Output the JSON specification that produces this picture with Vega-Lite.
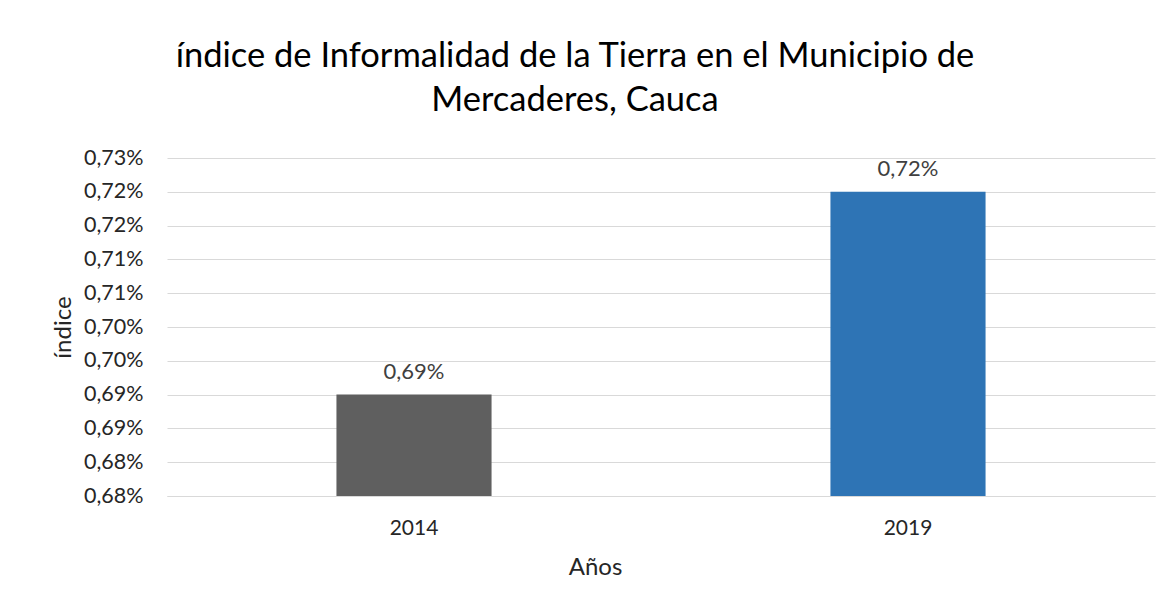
{
  "$schema": "https://vega.github.io/schema/vega-lite/v6.json",
  "width": 988,
  "height": 338,
  "autosize": {"type": "none"},
  "padding": {"left": 167, "top": 158, "right": 16, "bottom": 109},
  "background": "white",
  "title": {
    "text": ["índice de Informalidad de la Tierra en el Municipio de", "Mercaderes, Cauca"],
    "anchor": "middle",
    "orient": "top",
    "font": "Lato",
    "fontSize": 34.5,
    "fontWeight": "normal",
    "color": "#000000",
    "lineHeight": 44,
    "baseline": "bottom",
    "offset": -5,
    "dx": -86
  },
  "data": {
    "values": [
      {"year": "2014", "indice": 0.0069},
      {"year": "2019", "indice": 0.0072}
    ]
  },
  "encoding": {
    "x": {
      "field": "year",
      "type": "nominal",
      "scale": {"paddingInner": 0.686, "paddingOuter": 0.343},
      "axis": {
        "title": "Años",
        "labelAngle": 0,
        "ticks": false,
        "tickSize": 0,
        "domain": true,
        "domainColor": "#d9d9d9",
        "labelPadding": 21,
        "titlePadding": 17,
        "titleX": 428,
        "labelFont": "Lato",
        "labelFontSize": 21,
        "labelColor": "#262626",
        "titleFont": "Lato",
        "titleFontSize": 24,
        "titleFontWeight": "normal",
        "titleColor": "#262626"
      }
    },
    "y": {
      "field": "indice",
      "type": "quantitative",
      "scale": {"domain": [0.00675, 0.00725], "zero": false, "nice": false},
      "axis": {
        "title": "índice",
        "values": [0.00675, 0.0068, 0.00685, 0.0069, 0.00695, 0.007, 0.00705, 0.0071, 0.00715, 0.0072, 0.00725],
        "labelExpr": "replace(format(datum.value + 0.000000001, '.2%'), '.', ',')",
        "ticks": false,
        "tickSize": 0,
        "domain": false,
        "grid": true,
        "gridColor": "#d9d9d9",
        "gridWidth": 1,
        "labelPadding": 24,
        "titlePadding": 8,
        "labelFont": "Lato",
        "labelFontSize": 21.5,
        "labelColor": "#262626",
        "titleFont": "Lato",
        "titleFontSize": 24,
        "titleFontWeight": "normal",
        "titleColor": "#262626"
      }
    }
  },
  "layer": [
    {
      "mark": {"type": "bar", "clip": true},
      "encoding": {
        "color": {
          "field": "year",
          "type": "nominal",
          "scale": {"domain": ["2014", "2019"], "range": ["#5f5f5f", "#2e74b5"]},
          "legend": null
        }
      }
    },
    {
      "mark": {"type": "text", "baseline": "alphabetic", "dy": -16, "font": "Lato", "fontSize": 22, "color": "#404040"},
      "encoding": {
        "text": {"field": "indice", "type": "quantitative", "format": ".2%"}
      }
    }
  ],
  "config": {
    "view": {"stroke": null},
    "locale": {"number": {"decimal": ",", "thousands": ".", "grouping": [3], "currency": ["", " €"], "percent": "%"}}
  }
}
